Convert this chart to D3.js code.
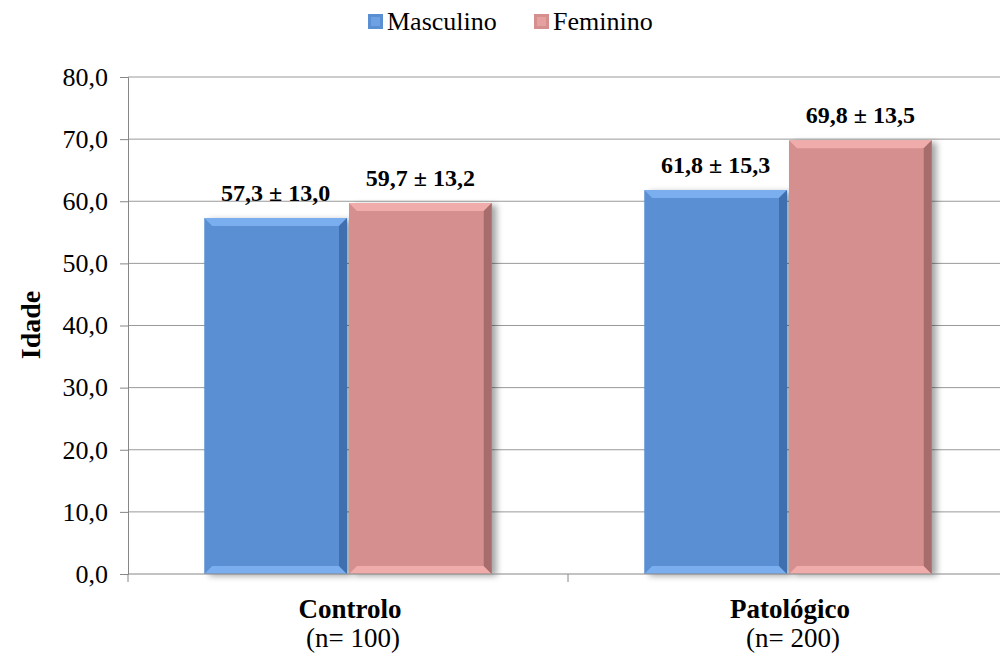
<!DOCTYPE html>
<html>
<head>
<meta charset="utf-8">
<script src="https://cdn.jsdelivr.net/npm/d3@7"></script>
<style>
  body { margin: 0; background: #fff; }
</style>
</head>
<body>
<svg id="canvas" width="1000" height="657" font-family="Liberation Serif"></svg>
<script>
// data
var categories = ['Controlo', 'Patológico'];
var categorySub = ['(n= 100)', '(n= 200)'];
var seriesNames = ['Masculino', 'Feminino'];
var means = [[57.3, 59.7], [61.8, 69.8]];
var sds = [[13.0, 13.2], [15.3, 13.5]];
var yTicks = [0, 10, 20, 30, 40, 50, 60, 70, 80];

var colors = { Masculino: { base: '#5a8fd4', light: '#7aaeef', dark: '#3f6fae' },
               Feminino:  { base: '#d48f8e', light: '#f0acab', dark: '#a76d6c' } };

var FONT = 'Liberation Serif';
var svg = d3.select('#canvas');
var fmt = function(v) { return v.toFixed(1).replace('.', ','); };

var plotLeft = 128, plotRight = 1008, plotTop = 77, plotBottom = 574;
var x = d3.scaleBand().domain(categories).range([plotLeft, plotRight]);
var xs = d3.scaleBand().domain(seriesNames).range([0, x.bandwidth()]).paddingOuter(0.52);
var y = d3.scaleLinear().domain([0, 80]).range([plotBottom, plotTop]);

// shadow
var defs = svg.append('defs');
var filt = defs.append('filter').attr('id', 'shadow').attr('x', '-10%').attr('y', '-10%').attr('width', '130%').attr('height', '130%');
filt.append('feDropShadow').attr('dx', 5).attr('dy', 2).attr('stdDeviation', 3).attr('flood-color', '#000').attr('flood-opacity', 0.35);

// gridlines
svg.append('g').selectAll('line').data(yTicks.slice(1)).join('line')
  .attr('x1', plotLeft).attr('x2', 1000)
  .attr('y1', d => y(d)).attr('y2', d => y(d))
  .attr('stroke', '#9a9a9a').attr('stroke-width', 1);

// y axis
var yAxis = svg.append('g').attr('transform', 'translate(' + plotLeft + ',0)')
  .call(d3.axisLeft(y).tickValues(yTicks).tickSize(8).tickPadding(12).tickFormat(fmt));
yAxis.attr('font-family', FONT);
yAxis.select('.domain').attr('stroke', '#868686');
yAxis.selectAll('.tick line').attr('stroke', '#868686');
yAxis.selectAll('.tick text').attr('font-size', 26).attr('fill', '#000').attr('font-family', FONT);

// bars
var groups = svg.append('g').selectAll('g').data(categories).join('g')
  .attr('transform', d => 'translate(' + x(d) + ',0)');

var bev = 8;
groups.each(function(cat, ci) {
  var g = d3.select(this);
  seriesNames.forEach(function(s, si) {
    var v = means[ci][si];
    var x0 = xs(s) + 1, w = xs.bandwidth() - 2;
    var y0 = y(v), h = y(0) - y(v);
    var c = colors[s];
    var b = g.append('g');
    b.append('rect').attr('x', x0).attr('y', y0).attr('width', w).attr('height', h)
      .attr('fill', c.base).attr('filter', 'url(#shadow)');
    // bevel edges
    var pts = function(a) { return a.map(p => p.join(',')).join(' '); };
    b.append('polygon').attr('points', pts([[x0, y0], [x0 + w, y0], [x0 + w - bev, y0 + bev], [x0 + bev, y0 + bev]]))
      .attr('fill', c.light);
    b.append('polygon').attr('points', pts([[x0, y0 + h], [x0 + w, y0 + h], [x0 + w - bev, y0 + h - bev], [x0 + bev, y0 + h - bev]]))
      .attr('fill', c.light);
    b.append('polygon').attr('points', pts([[x0 + w, y0], [x0 + w - bev, y0 + bev], [x0 + w - bev, y0 + h - bev], [x0 + w, y0 + h]]))
      .attr('fill', c.dark);
    // value label
    g.append('text').attr('x', x0 + w / 2).attr('y', y0 - 17)
      .attr('text-anchor', 'middle').attr('font-family', FONT).attr('font-size', 24).attr('font-weight', 'bold')
      .text(fmt(v) + ' ± ' + fmt(sds[ci][si]));
  });
});

// x axis
var xAxis = svg.append('g').attr('transform', 'translate(0,' + plotBottom + ')');
xAxis.append('line').attr('x1', plotLeft).attr('x2', 1000).attr('stroke', '#868686');
xAxis.selectAll('line.t').data([plotLeft, plotLeft + x.bandwidth(), plotRight]).join('line')
  .attr('class', 't').attr('x1', d => d).attr('x2', d => d).attr('y1', 0).attr('y2', 8).attr('stroke', '#868686');

categories.forEach(function(c, i) {
  var cx = x(c) + x.bandwidth() / 2 + 2;
  svg.append('text').attr('x', cx).attr('y', 618).attr('text-anchor', 'middle').attr('font-family', FONT)
    .attr('font-size', 27).attr('font-weight', 'bold').text(c);
  svg.append('text').attr('x', cx + 3).attr('y', 647).attr('text-anchor', 'middle').attr('font-family', FONT)
    .attr('font-size', 27).text(categorySub[i]);
});

// y title
svg.append('text').attr('transform', 'translate(40,325) rotate(-90)').attr('font-family', FONT)
  .attr('text-anchor', 'middle').attr('font-size', 28).attr('font-weight', 'bold').text('Idade');

// legend
var legend = svg.append('g');
var lx = [368, 534];
seriesNames.forEach(function(s, i) {
  var c = colors[s];
  legend.append('rect').attr('x', lx[i]).attr('y', 14).attr('width', 15).attr('height', 15).attr('fill', c.base);
  legend.append('rect').attr('x', lx[i] + 3).attr('y', 17).attr('width', 9).attr('height', 9).attr('fill', c.light).attr('opacity', 0.6);
  legend.append('text').attr('x', lx[i] + 19).attr('y', 30).attr('font-family', FONT).attr('font-size', 26).text(s);
});
</script>
</body>
</html>
